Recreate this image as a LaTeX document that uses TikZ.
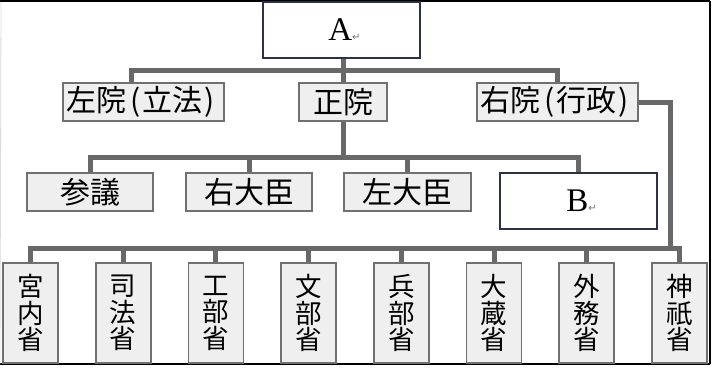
\documentclass[tikz,border=0pt]{standalone}
\usepackage{fontspec}
\setmainfont{Liberation Serif}
\newfontfamily\jp{Noto Sans CJK JP}
\newfontfamily\symf{DejaVu Sans}
\definecolor{conncol}{HTML}{686868}
\definecolor{boxline}{HTML}{707070}
\definecolor{boxfill}{HTML}{EFEFEF}
\definecolor{navy}{HTML}{2A3148}
\newcommand{\retmark}{{\symf\fontsize{10}{10}\selectfont\textcolor{black!55}{↵}}}
\tikzset{
  gbox/.style={draw=boxline, line width=1.8pt, fill=boxfill, inner sep=0pt, anchor=center,
    font=\jp\fontsize{30}{32}\selectfont},
  vbox/.style={gbox, minimum width=55pt, minimum height=100pt, align=center,
    font=\jp\fontsize{26.5}{26.5}\selectfont},
  wbox/.style={draw=navy, line width=1.4pt, fill=white, inner sep=0pt, anchor=center,
    minimum width=157pt, minimum height=56pt, font=\fontsize{33}{35}\selectfont},
  conn/.style={draw=conncol, line width=5pt, line join=miter},
  frameline/.style={line width=2pt, black}
}
\begin{document}
\begin{tikzpicture}[x=1pt,y=-1pt]
\useasboundingbox (0,0) rectangle (714,372);
\fill[white] (0,0) rectangle (714,372);
% frame
\draw[frameline] (0,1) coordinate (f1) -- (710,1) coordinate (f2);
\draw[frameline] (f2) -- (710,364) coordinate (f3);
\draw[frameline] (f3) -- (0,364) coordinate (f4);
\draw[line width=0.8pt, black!15] (f4) -- (1,2);
% coordinates for buses
\coordinate (bus1) at (0,70);
\coordinate (bus3) at (0,157);
\coordinate (bus4) at (0,248);
\coordinate (rx) at (670,248);
% nodes
\node[wbox] (A) at (341.5,30) {\kern6pt A\retmark};
\node[gbox, minimum width=161pt, minimum height=38pt] (L) at (143.5,102) {左院\kern4pt(\kern2pt立法\kern2pt)\kern6pt};
\node[gbox, minimum width=88pt, minimum height=38pt] (Z) at (343,102) {正院};
\node[gbox, minimum width=161pt, minimum height=38pt] (R) at (557.5,102) {右院\kern4pt(\kern2pt行政\kern2pt)\kern6pt};
\node[gbox, minimum width=126pt, minimum height=38pt] (S) at (90,192) {参議};
\node[gbox, minimum width=126pt, minimum height=38pt] (U) at (249,192) {右大臣};
\node[gbox, minimum width=127pt, minimum height=38pt] (Sa) at (407.5,192) {左大臣};
\node[wbox] (B) at (578.5,201) {\kern6pt B\retmark};
\node[vbox] (m1) at (30.5,313) {宮\\内\\省};
\node[vbox] (m2) at (123.2,313) {司\\法\\省};
\node[vbox] (m3) at (215.9,313) {工\\部\\省};
\node[vbox] (m4) at (308.6,313) {文\\部\\省};
\node[vbox] (m5) at (401.3,313) {兵\\部\\省};
\node[vbox] (m6) at (494,313) {大\\蔵\\省};
\node[vbox] (m7) at (586.7,313) {外\\務\\省};
\node[vbox] (m8) at (679.4,313) {神\\祇\\省};
% connectors
\draw[conn] (Z.north) -- (Z.north |- A.south);
\draw[conn] ([xshift=-12.5pt]L.north) -- ([xshift=-12.5pt]L.north |- bus1) -- (R.north |- bus1) -- (R.north);
\draw[conn] (Z.south) -- (Z.south |- bus3);
\draw[conn] (S.north) -- (S.north |- bus3) -- (B.north |- bus3) -- (B.north);
\draw[conn] (U.north) -- (U.north |- bus3);
\draw[conn] (Sa.north) -- (Sa.north |- bus3);
\draw[conn] (R.east) -| (rx);
\draw[conn] (m1.north) -- (m1.north |- bus4) -- (m8.north |- bus4) -- (m8.north);
\foreach \m in {m2,m3,m4,m5,m6,m7} {\draw[conn] (\m.north) -- (\m.north |- bus4);}
\end{tikzpicture}
\end{document}
